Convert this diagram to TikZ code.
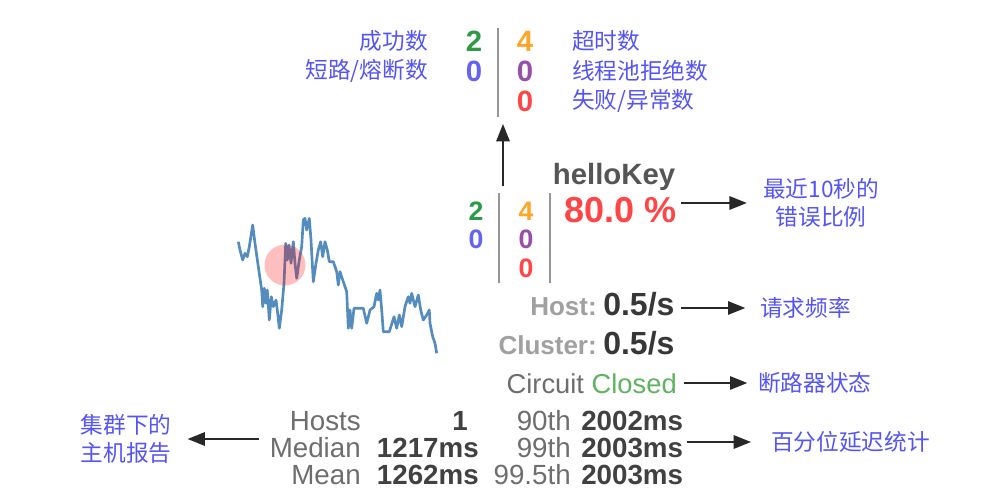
\documentclass[tikz,border=0pt]{standalone}
\usepackage{fontspec}
\setmainfont{Liberation Sans}
\newfontfamily\cjk{Noto Sans CJK SC}
\usetikzlibrary{arrows.meta}

\definecolor{lblblue}{RGB}{85,85,245}
\definecolor{okgreen}{RGB}{45,155,70}
\definecolor{shortblue}{RGB}{100,100,240}
\definecolor{timeorange}{RGB}{255,165,40}
\definecolor{rejpurple}{RGB}{150,80,170}
\definecolor{failred}{RGB}{255,70,70}
\definecolor{keygray}{RGB}{85,85,85}
\definecolor{sepgray}{RGB}{150,150,150}
\definecolor{hostgray}{RGB}{160,160,160}
\definecolor{rategray}{RGB}{55,55,55}
\definecolor{circgray}{RGB}{110,110,110}
\definecolor{closedgreen}{RGB}{95,180,95}
\definecolor{tabgray}{RGB}{110,110,110}
\definecolor{tabdark}{RGB}{65,65,65}
\definecolor{arrowdark}{RGB}{40,40,40}
\definecolor{sparkblue}{RGB}{85,140,190}

\begin{document}
\begin{tikzpicture}[x=0.75pt,y=-0.75pt,
    lat/.style={inner sep=0pt},
    cn/.style={inner sep=0pt, text=lblblue, font=\cjk\fontsize{17}{21}\selectfont},
    topdigit/.style={lat, anchor=base, font=\bfseries\fontsize{22}{22}\selectfont},
    lowdigit/.style={lat, anchor=base, font=\bfseries\fontsize{20}{20}\selectfont},
    sep/.style={draw=sepgray, line width=1.5pt},
    arr/.style={draw=arrowdark, line width=1.5pt, -{Triangle[length=13pt,width=10pt]}},
    tab/.style={lat, text=tabgray, font=\fontsize{20.8}{21}\selectfont},
    tabval/.style={lat, text=tabdark, font=\bfseries\fontsize{20.8}{21}\selectfont}]

    \fill[white] (0,0) rectangle (993,495);
    \useasboundingbox (0,0) rectangle (993,495);

    % legend at the top
    \node[cn, anchor=east] (succ_lbl) at (428,41) {成功数};
    \node[cn, anchor=east] (short_lbl) at (428,71) {短路/熔断数};
    \node[topdigit, text=okgreen] (succ_t) at (474,51.5) {2};
    \node[topdigit, text=shortblue] (short_t) at (474,81.5) {0};
    \draw[sep] (498,28) -- (498,117);
    \node[topdigit, text=timeorange] (time_t) at (525,51.5) {4};
    \node[topdigit, text=rejpurple] (rej_t) at (525,81.5) {0};
    \node[topdigit, text=failred] (fail_t) at (525,111.5) {0};
    \node[cn, anchor=west] (time_lbl) at (572,41) {超时数};
    \node[cn, anchor=west] (rej_lbl) at (572,71) {线程池拒绝数};
    \node[cn, anchor=west] (fail_lbl) at (572,101) {失败/异常数};

    \coordinate (up_from) at (503,186);
    \coordinate (up_to) at (503,124);
    \draw[arr] (up_from) -- (up_to);

    % the circuit panel
    \node[lat, anchor=base, text=keygray, font=\bfseries\fontsize{22}{22}\selectfont] (key) at (614,184.5) {helloKey};
    \node[lowdigit, text=okgreen] (succ) at (476,220.5) {2};
    \node[lowdigit, text=shortblue] (short) at (476,248.5) {0};
    \draw[sep] (499,193) -- (499,283);
    \node[lowdigit, text=timeorange] (time) at (526,220.5) {4};
    \node[lowdigit, text=rejpurple] (rej) at (526,248.5) {0};
    \node[lowdigit, text=failred] (fail) at (526,277.5) {0};
    \draw[sep] (550,193) -- (550,283);
    \node[lat, anchor=base east, text=failred, font=\bfseries\fontsize{27}{27}\selectfont] (ratio) at (677,223) {80.0 \%};

    \node[lat, anchor=base east, text=hostgray, font=\bfseries\fontsize{19.5}{20}\selectfont] (host) at (597,316) {Host:};
    \node[lat, anchor=base west, text=rategray, font=\bfseries\fontsize{24}{24}\selectfont] (host_rate) at (603,316) {0.5/s};
    \node[lat, anchor=base east, text=hostgray, font=\bfseries\fontsize{19.5}{20}\selectfont] (cluster) at (597,354) {Cluster:};
    \node[lat, anchor=base west, text=rategray, font=\bfseries\fontsize{24}{24}\selectfont] (cluster_rate) at (603,354) {0.5/s};
    \node[lat, anchor=base east, font=\fontsize{20.5}{21}\selectfont] (circuit) at (677,393) {\textcolor{circgray}{Circuit} \textcolor{closedgreen}{Closed}};

    % sparkline
    \draw[sparkblue, line width=2pt, line join=round] plot coordinates {
        (238.3,241.7) (240,250) (242.7,260) (245,253.3) (247.3,256.7) (249.3,246.7)
        (252.7,225) (255,243.3) (258.3,266.7) (261.7,290) (262.7,306.7) (264.3,288.3)
        (266,303.3) (267.3,290) (269.3,320) (271.3,296.7) (273.3,306.7) (276,300)
        (277.7,313.3) (279.3,328.3) (281.7,310) (284,283.3) (285.7,243.3) (287.3,260)
        (289,245) (291,263.3) (293.3,241.7) (295,263.3) (296.7,278.3) (299.3,260)
        (301.7,246.7) (303.3,220) (305,218.3) (306.7,230) (309.3,218.3) (311,240)
        (313.3,281.7) (316,263.3) (318.3,250) (320.7,241.7) (322.7,256.7) (325,241.7)
        (327.3,250) (329.3,261.7) (333.3,261.7) (336.7,271.7) (338.3,285) (340,271.7)
        (343.3,281.7) (346.7,291.7) (348.3,328.3) (350,310) (351.7,328.3) (354,308.3)
        (356.7,308.3) (363.3,308.3) (366.7,323.3) (370,310) (374,306.7) (376.7,293.3)
        (378.3,300) (380,290) (381.7,310) (383.3,331.7) (389.3,331.7) (394,316.7)
        (396.7,328.3) (399.3,315) (401.7,326.7) (405,306.7) (408.3,296.7) (410,303.3)
        (411.7,293.3) (415,306.7) (418.3,295) (420.7,310) (423.3,320) (426.7,315)
        (429.3,310) (430,323.3) (432.7,336.7) (435,343.3) (436.7,353.3)};
    \fill[red, opacity=0.25] (285,265) circle (20.5);

    % latency table
    \foreach \lab/\pct/\ms/\yy [count=\i] in {Hosts/90th/2002ms/430.6, Median/99th/2003ms/457.6, Mean/99.5th/2003ms/484.6} {
        \node[tab, anchor=base east] (lab_\i) at (361,\yy) {\lab};
        \node[tab, anchor=base east] (pct_\i) at (571,\yy) {\pct};
        \node[tabval, anchor=base west] (ms_\i) at (581,\yy) {\ms};
    }
    \node[tabval, anchor=base east] (val_1) at (468,430.6) {1};
    \node[tabval, anchor=base east] (val_2) at (479,457.6) {1217ms};
    \node[tabval, anchor=base east] (val_3) at (479,484.6) {1262ms};

    % notes
    \node[cn, align=center] (err_lbl) at (821,203) {最近10秒的\\错误比例};
    \node[cn, anchor=west] (rate_lbl) at (760,308) {请求频率};
    \node[cn, anchor=west] (state_lbl) at (758,383) {断路器状态};
    \node[cn, anchor=west] (pct_lbl) at (771,442) {百分位延迟统计};
    \node[cn, align=center] (host_lbl) at (126,439) {集群下的\\主机报告};

    \draw[arr, shorten <=3pt, shorten >=12pt] (ratio.east |- err_lbl.west) -- (err_lbl.west);
    \draw[arr, shorten <=5pt, shorten >=11pt] (host_rate.east |- rate_lbl.west) -- (rate_lbl.west);
    \draw[arr, shorten <=5pt, shorten >=8pt] (circuit.east |- state_lbl.west) -- (state_lbl.west);
    \draw[arr, shorten <=3pt, shorten >=15pt] (ms_2.east |- pct_lbl.west) -- (pct_lbl.west);
    \draw[arr, shorten <=8pt, shorten >=12pt] (lab_2.west |- host_lbl.east) -- (host_lbl.east);
\end{tikzpicture}
\end{document}
